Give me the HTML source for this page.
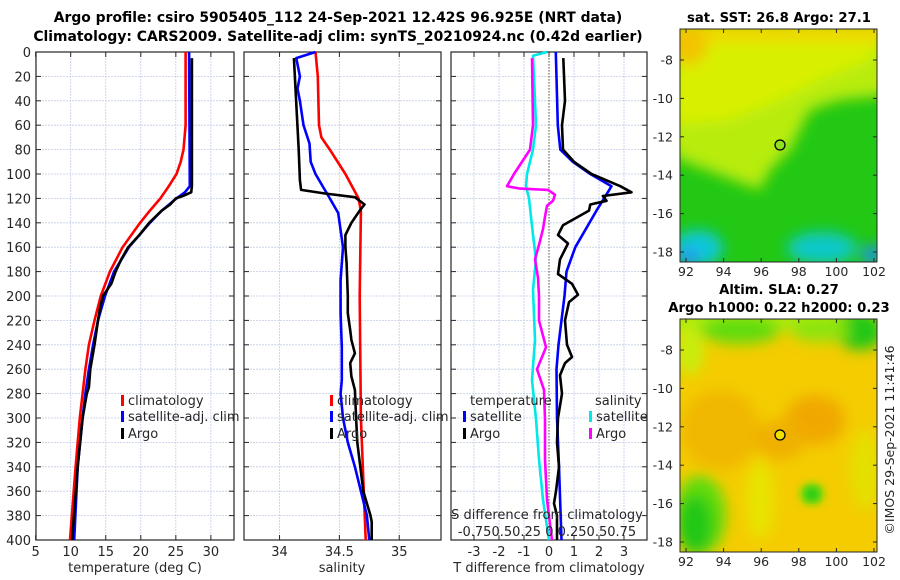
<!DOCTYPE html>
<html><head><meta charset="utf-8">
<style>
html,body{margin:0;padding:0;background:#fff;}
svg{display:block;font-family:"DejaVu Sans","Liberation Sans",sans-serif;}
</style></head>
<body>
<svg id="chart" width="900" height="580" viewBox="0 0 900 580" xmlns="http://www.w3.org/2000/svg">
<defs>
<filter id="blur6" x="-30%" y="-30%" width="160%" height="160%"><feGaussianBlur stdDeviation="7"/></filter>
<filter id="blur3" x="-30%" y="-30%" width="160%" height="160%"><feGaussianBlur stdDeviation="4"/></filter>
<clipPath id="clipTop"><rect x="680" y="29" width="197" height="233"/></clipPath>
<clipPath id="clipBot"><rect x="680" y="319" width="197" height="233"/></clipPath>
</defs>
<text x="338" y="22" text-anchor="middle" font-size="13.9" font-weight="bold">Argo profile: csiro 5905405_112 24-Sep-2021 12.42S 96.925E (NRT data)</text>
<text x="338" y="41" text-anchor="middle" font-size="13.9" font-weight="bold">Climatology: CARS2009. Satellite-adj clim: synTS_20210924.nc (0.42d earlier)</text>

<!-- map top -->
<g>
<g clip-path="url(#clipTop)">
<rect x="680" y="29" width="197" height="233" fill="#22c814"/>
<g filter="url(#blur6)">
<polygon points="670,20 890,20 890,95 840,100 810,110 790,150 770,170 760,190 720,175 680,160 670,150" fill="#b8ec10"/>
<polygon points="670,20 890,20 870,60 820,80 780,100 730,120 670,125" fill="#d8f000"/>
<rect x="670" y="20" width="220" height="22" fill="#f0d800"/>
<ellipse cx="688" cy="45" rx="20" ry="20" fill="#f2c400"/>
<ellipse cx="698" cy="248" rx="25" ry="18" fill="#10c8d8"/>
<ellipse cx="688" cy="258" rx="12" ry="10" fill="#2098f0"/>
<ellipse cx="822" cy="248" rx="35" ry="16" fill="#10c8c8"/>
<ellipse cx="872" cy="255" rx="10" ry="10" fill="#2090f0"/>
</g>
</g>
<rect x="680" y="29" width="197" height="233" fill="none" stroke="#262626" stroke-width="1"/>
<circle cx="780" cy="145" r="5" fill="#8ee020" stroke="#000" stroke-width="1.3"/>
<text x="779" y="22" text-anchor="middle" font-size="13.2" font-weight="bold">sat. SST: 26.8 Argo: 27.1</text>
<g id="topMapTicks"></g>
</g>

<!-- map bottom -->
<g>
<g clip-path="url(#clipBot)">
<rect x="680" y="319" width="197" height="233" fill="#f4cc00"/>
<g filter="url(#blur6)">
<rect x="670" y="310" width="220" height="20" fill="#a8ec10"/>
<ellipse cx="740" cy="330" rx="40" ry="14" fill="#60dc10"/>
<ellipse cx="860" cy="330" rx="25" ry="20" fill="#20c814"/>
<ellipse cx="820" cy="330" rx="30" ry="12" fill="#8ce410"/>
<ellipse cx="690" cy="350" rx="14" ry="25" fill="#c8ee10"/>
<ellipse cx="720" cy="430" rx="40" ry="40" fill="#f0b800"/>
<ellipse cx="815" cy="420" rx="30" ry="25" fill="#f0a800"/>
<ellipse cx="780" cy="440" rx="25" ry="20" fill="#f0b000"/>
<ellipse cx="700" cy="515" rx="26" ry="40" fill="#60dc10"/>
<ellipse cx="695" cy="525" rx="18" ry="30" fill="#20c814"/>
<ellipse cx="760" cy="500" rx="14" ry="40" fill="#e8e400"/>
<ellipse cx="865" cy="470" rx="15" ry="40" fill="#e4e000"/>
</g>
<ellipse cx="812" cy="494" rx="12" ry="11" fill="#60dc10" filter="url(#blur3)"/>
<ellipse cx="812" cy="494" rx="6" ry="6" fill="#20c814" filter="url(#blur3)"/>
</g>
<rect x="680" y="319" width="197" height="233" fill="none" stroke="#262626" stroke-width="1"/>
<circle cx="780" cy="435" r="5" fill="#f0e000" stroke="#000" stroke-width="1.3"/>
<text x="779" y="294" text-anchor="middle" font-size="13.2" font-weight="bold">Altim. SLA: 0.27</text>
<text x="779" y="312" text-anchor="middle" font-size="13.2" font-weight="bold">Argo h1000: 0.22 h2000: 0.23</text>
<g id="botMapTicks"></g>
</g>
<text transform="translate(894,440) rotate(-90)" text-anchor="middle" font-size="12.5" fill="#262626">©IMOS 29-Sep-2021 11:41:46</text>

<g id="panels"></g>
</svg>
<script>
// ===== data =====
const depthTicks = [0,20,40,60,80,100,120,140,160,180,200,220,240,260,280,300,320,340,360,380,400];
const tempTicks = [5,10,15,20,25,30];
const salTicks = [34,34.5,35];
const dTTicks = [-3,-2,-1,0,1,2,3];
const dSTickLabel = "-0.750.50.25 0 0.250.50.75";

const tClimDepth = [0,60,80,90,100,110,120,130,140,160,180,200,220,240,260,280,300,340,400];
const tClimVal   = [26.4,26.4,26.1,25.7,25.1,24.0,22.8,21.3,19.9,17.4,15.6,14.3,13.4,12.6,12.1,11.7,11.3,10.7,9.9];
const tSatDepth  = [0,110,115,120,130,140,160,180,200,220,240,260,280,300,340,400];
const tSatVal    = [26.9,27.0,26.3,25.1,23.0,21.3,18.3,16.2,14.9,13.9,13.2,12.6,12.1,11.7,11.0,10.5];
const tArgoDepth = [5,110,115,118,120,125,130,140,150,160,170,180,190,200,210,220,240,260,275,280,300,340,370,400];
const tArgoVal   = [27.3,27.3,27.2,26.0,25.0,24.2,23.0,21.2,19.8,18.2,17.2,16.4,15.8,14.6,14.2,13.9,13.4,12.8,12.6,12.3,11.7,11.0,10.6,10.2];

const sClimDepth = [0,20,60,70,80,100,120,130,200,300,400];
const sClimVal   = [34.30,34.32,34.33,34.35,34.42,34.55,34.66,34.68,34.67,34.68,34.72];
const sSatDepth  = [0,5,20,30,40,60,75,90,100,120,132,160,187,214,242,269,280,300,320,340,360,380,400];
const sSatVal    = [34.30,34.14,34.17,34.15,34.17,34.20,34.25,34.26,34.30,34.42,34.49,34.53,34.51,34.51,34.52,34.52,34.51,34.53,34.57,34.63,34.68,34.73,34.75];
const sArgoDepth = [5,80,105,113,116,119,125,130,140,150,160,173,200,214,228,236,247,255,266,277,300,320,360,380,385,400];
const sArgoVal   = [34.12,34.16,34.17,34.18,34.38,34.63,34.71,34.67,34.60,34.55,34.55,34.56,34.57,34.57,34.59,34.60,34.63,34.59,34.60,34.63,34.64,34.65,34.70,34.76,34.77,34.77];

const dTSatDepth = [0,60,80,90,100,110,115,130,160,180,200,240,260,300,340,400];
const dTSatVal   = [0.27,0.35,0.45,0.95,1.65,2.5,2.35,1.9,1.05,0.7,0.62,0.38,0.3,0.32,0.4,0.5];
const dTArgoDepth = [5,40,60,80,90,100,110,115,118,122,125,130,142,150,157,170,182,190,199,205,220,240,250,255,265,280,300,320,340,360,370,380,400];
const dTArgoVal   = [0.57,0.64,0.52,0.56,1.0,1.7,2.85,3.3,2.15,2.3,1.65,1.6,0.56,0.36,0.76,0.44,0.36,0.92,1.16,0.8,0.64,0.72,0.92,0.64,0.44,0.52,0.36,0.32,0.4,0.28,0.2,0.32,0.32];
const dSSatDepth = [0,3,20,60,80,100,110,120,150,170,195,236,269,301,334,367,400];
const dSSatVal   = [-0.02,-0.16,-0.15,-0.13,-0.16,-0.22,-0.23,-0.20,-0.16,-0.13,-0.16,-0.14,-0.17,-0.13,-0.10,-0.06,0.0];
const dSArgoDepth = [5,60,80,100,110,112,113,117,122,126,135,145,155,170,185,200,220,242,260,277,301,334,367,400];
const dSArgoVal   = [-0.17,-0.16,-0.19,-0.35,-0.42,-0.29,-0.01,0.06,0.04,-0.02,-0.04,-0.06,-0.09,-0.14,-0.11,-0.10,-0.10,-0.03,-0.12,-0.05,-0.04,-0.04,-0.02,0.03];

const mapLonTicks = [92,94,96,98,100,102];
const mapLatTicks = [-8,-10,-12,-14,-16,-18];

// ===== drawing =====
const NS = "http://www.w3.org/2000/svg";
const root = document.getElementById('panels');
function mk(tag, attrs, parent){
  const e = document.createElementNS(NS, tag);
  for (const k in attrs) e.setAttribute(k, attrs[k]);
  (parent||root).appendChild(e);
  return e;
}
const Y0 = 52, Y1 = 540;
const yScale = d => Y0 + d/400*(Y1-Y0);
function makeScale(x0,x1,vmin,vmax){ return v => x0 + (v-vmin)/(vmax-vmin)*(x1-x0); }
const P1 = {x0:36,x1:234,sc:makeScale(36,234,5.05,33.3)};
const P2 = {x0:244,x1:441,sc:makeScale(244,441,33.703,35.349)};
const P3 = {x0:451,x1:647,sc:makeScale(451,647,-3.92,3.92)};

function frame(P, name){
  const g = mk('g',{});
  
  
  depthTicks.forEach(d=>{
    const l = mk('line',{x1:P.x0,x2:P.x1,y1:yScale(d),y2:yScale(d),stroke:'#c4cce8','stroke-width':0.8,'stroke-dasharray':'2,1'},g);
    
    
    mk('line',{x1:P.x0,x2:P.x0+5,y1:yScale(d),y2:yScale(d),stroke:'#262626'},g);
    mk('line',{x1:P.x1,x2:P.x1-5,y1:yScale(d),y2:yScale(d),stroke:'#262626'},g);
  });
  return g;
}
function xgrid(P, ticks, g){
  ticks.forEach(t=>{
    const x = P.sc(t);
    const l = mk('line',{x1:x,x2:x,y1:Y0,y2:Y1,stroke:'#c4cce8','stroke-width':0.8,'stroke-dasharray':'2,1'},g);
    
    
    mk('line',{x1:x,x2:x,y1:Y1,y2:Y1-5,stroke:'#262626'},g);
    mk('line',{x1:x,x2:x,y1:Y0,y2:Y0+5,stroke:'#262626'},g);
  });
}
function box(P,g){
  mk('rect',{x:P.x0,y:Y0,width:P.x1-P.x0,height:Y1-Y0,fill:'none',stroke:'#262626','stroke-width':1.2},g);
}
function series(P, depths, vals, color, name, mult){
  const m = mult||1;
  const pts = depths.map((d,i)=> P.sc(vals[i]*m).toFixed(1)+','+yScale(d).toFixed(1)).join(' ');
  const pl = mk('polyline',{points:pts,fill:'none',stroke:color,'stroke-width':2.6,'stroke-linejoin':'round'});
  
  
}
function txt(x,y,s,opt,name){
  const t = mk('text',Object.assign({x:x,y:y,'font-size':13,fill:'#262626'},opt||{}));
  t.textContent = s;
  
  
  return t;
}

// panel 1
const g1 = frame(P1,'temperature-panel');
xgrid(P1,tempTicks,g1);
depthTicks.forEach(d=> txt(31,yScale(d)+5,String(d),{'text-anchor':'end'},'depth-tick-label'));
tempTicks.forEach(t=> txt(P1.sc(t),556,String(t),{'text-anchor':'middle'},'temperature-tick-label'));
txt(135,572,'temperature (deg C)',{'text-anchor':'middle'},'temperature-axis-title');
series(P1,tClimDepth,tClimVal,'#ff0000','temp-climatology-line');
series(P1,tSatDepth,tSatVal,'#0000ff','temp-satellite-line');
series(P1,tArgoDepth,tArgoVal,'#000000','temp-argo-line');
box(P1,g1);

// panel 2
const g2 = frame(P2,'salinity-panel');
xgrid(P2,salTicks,g2);
salTicks.forEach(t=> txt(P2.sc(t),556,String(t),{'text-anchor':'middle'},'salinity-tick-label'));
txt(342,572,'salinity',{'text-anchor':'middle'},'salinity-axis-title');
series(P2,sClimDepth,sClimVal,'#ff0000','sal-climatology-line');
series(P2,sSatDepth,sSatVal,'#0000ff','sal-satellite-line');
series(P2,sArgoDepth,sArgoVal,'#000000','sal-argo-line');
box(P2,g2);

// panel 3
const g3 = frame(P3,'difference-panel');
xgrid(P3,dTTicks,g3);
const z = mk('line',{x1:P3.sc(0),x2:P3.sc(0),y1:Y0,y2:Y1,stroke:'#555533','stroke-width':1,'stroke-dasharray':'1.5,1.5'},g3);


dTTicks.forEach(t=> txt(P3.sc(t),556,String(t),{'text-anchor':'middle'},'tdiff-tick-label'));
txt(549,572,'T difference from climatology',{'text-anchor':'middle'},'tdiff-axis-title');
series(P3,dSSatDepth,dSSatVal,'#00e8e8','sdiff-satellite-line',4);
series(P3,dSArgoDepth,dSArgoVal,'#ff00ff','sdiff-argo-line',4);
series(P3,dTSatDepth,dTSatVal,'#0000ff','tdiff-satellite-line');
series(P3,dTArgoDepth,dTArgoVal,'#000000','tdiff-argo-line');
box(P3,g3);
txt(547,519,'S difference from climatology',{'text-anchor':'middle'},'sdiff-axis-title');
txt(547,536,dSTickLabel,{'text-anchor':'middle'},'sdiff-tick-labels');

// legends
function legItem(x,y,color,label,name){
  const r = mk('rect',{x:x,y:y-10,width:3,height:11,fill:color});
  
  
  txt(x+7,y,label,{},name);
}
legItem(121,405,'#ff0000','climatology','legend-climatology');
legItem(121,421,'#0000ff','satellite-adj. clim','legend-satellite-adj');
legItem(121,438,'#000000','Argo','legend-argo');
legItem(330,405,'#ff0000','climatology','legend-climatology-sal');
legItem(330,421,'#0000ff','satellite-adj. clim','legend-satellite-adj-sal');
legItem(330,438,'#000000','Argo','legend-argo-sal');
txt(470,405,'temperature',{},'legend-temperature-header');
legItem(463,421,'#0000ff','satellite','legend-t-satellite');
legItem(463,438,'#000000','Argo','legend-t-argo');
txt(595,405,'salinity',{},'legend-salinity-header');
legItem(589,421,'#00e8e8','satellite','legend-s-satellite');
legItem(589,438,'#ff00ff','Argo','legend-s-argo');

// map ticks
function mapTicks(gid, yTop, yBot){
  const g = document.getElementById(gid);
  const lonX = lon => 686 + (lon-92)*18.8;
  const latY = lat => yTop + 31 + (-8-lat)*19.2;
  mapLonTicks.forEach(l=>{
    const x = lonX(l);
    mk('line',{x1:x,x2:x,y1:yBot,y2:yBot-4,stroke:'#262626'},g);
    mk('line',{x1:x,x2:x,y1:yTop,y2:yTop+4,stroke:'#262626'},g);
    const t = mk('text',{x:x,y:yBot+14,'text-anchor':'middle','font-size':12.5,fill:'#262626'},g);
    t.textContent = String(l);
    
    
  });
  mapLatTicks.forEach(l=>{
    const y = latY(l);
    mk('line',{x1:680,x2:684,y1:y,y2:y,stroke:'#262626'},g);
    mk('line',{x1:877,x2:873,y1:y,y2:y,stroke:'#262626'},g);
    const t = mk('text',{x:673,y:y+4.5,'text-anchor':'end','font-size':12.5,fill:'#262626'},g);
    t.textContent = String(l);
    
    
  });
}
mapTicks('topMapTicks',29,262);
mapTicks('botMapTicks',319,552);
</script>
</body></html>
